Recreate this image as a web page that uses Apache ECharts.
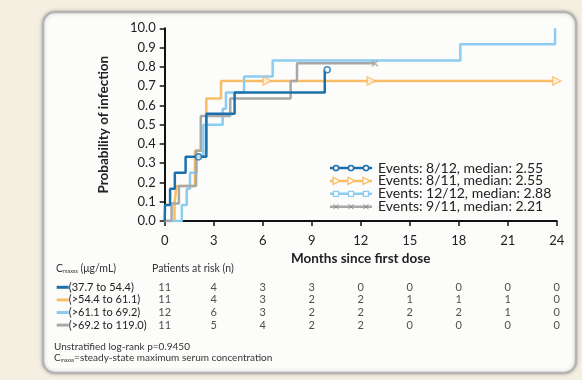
<!DOCTYPE html>
<html>
<head>
<meta charset="utf-8">
<script src="https://cdn.jsdelivr.net/npm/echarts@6/dist/echarts.min.js"></script>
<style>
  html, body { margin: 0; padding: 0; background: #f5efe2; }
  #chart { width: 582px; height: 380px; }
</style>
</head>
<body>
<div id="chart"></div>
<script>
// x ticks (months) and y tick labels as printed (top label really reads 10.0)
const months = [0, 3, 6, 9, 12, 15, 18, 21, 24];
const yTickLabels = ['0.0', '0.1', '0.2', '0.3', '0.4', '0.5', '0.6', '0.7', '0.8', '0.9', '10.0'];

const groupNames = ['(37.7 to 54.4)', '(>54.4 to 61.1)', '(>61.1 to 69.2)', '(>69.2 to 119.0)'];
const legendNames = [
  'Events: 8/12, median: 2.55',
  'Events: 8/11, median: 2.55',
  'Events: 12/12, median: 2.88',
  'Events: 9/11, median: 2.21'
];
const colors = ['#1b70ab', '#f9bd66', '#8bcdf0', '#a8a8a8'];

// cumulative probability of infection, [month, probability] at each step
const curveLow = [[0, 0], [0.02, 0.083], [0.33, 0.167], [0.62, 0.25], [1.28, 0.333], [2.55, 0.556], [4.28, 0.667], [9.8, 0.778], [9.9, 0.778]];
const curveMid = [[0, 0], [0.6, 0.091], [0.72, 0.182], [1.85, 0.364], [2.55, 0.636], [3.45, 0.727], [24, 0.727]];
const curveHigh = [[0, 0], [1.05, 0.083], [1.35, 0.167], [1.55, 0.25], [1.95, 0.333], [2.37, 0.5], [3.55, 0.583], [3.75, 0.667], [4.86, 0.75], [6.61, 0.833], [18.1, 0.917], [23.9, 1.0]];
const curveTop = [[0, 0], [0.42, 0.091], [0.87, 0.182], [1.92, 0.364], [2.21, 0.545], [4.01, 0.636], [7.71, 0.727], [8.1, 0.818], [12.87, 0.818]];

// censored observations
const censorLow = [[2.07, 0.333], [9.95, 0.785]];
const censorMid = [[6.27, 0.727], [12.65, 0.727], [24, 0.727]];
const censorTop = [[12.87, 0.818]];

// patients at risk at each month tick
const riskLow = [11, 4, 3, 3, 0, 0, 0, 0, 0];
const riskMid = [11, 4, 3, 2, 2, 1, 1, 1, 0];
const riskHigh = [12, 6, 3, 2, 2, 2, 2, 1, 0];
const riskTop = [11, 5, 4, 2, 2, 0, 0, 0, 0];

const curves = [curveLow, curveMid, curveHigh, curveTop];
const risks = [riskLow, riskMid, riskHigh, riskTop];

const FONT = 'Lato';
const triPath = 'path://M0,0L10,5L0,10Z';
const crossPath = 'path://M0,0L10,10M10,0L0,10';

const chart = echarts.init(document.getElementById('chart'));

const lineSeries = curves.map((c, i) => ({
  type: 'line',
  step: 'end',
  data: c,
  symbol: 'none',
  lineStyle: { color: colors[i], width: 2.5 },
  z: i === 0 ? 5 : 3,
  silent: true
}));

const censorSeries = [
  { data: censorLow, symbol: 'circle', symbolSize: 6, color: colors[0] },
  { data: censorMid, symbol: triPath, symbolSize: 8, color: colors[1] },
  { data: censorTop, symbol: crossPath, symbolSize: 6, color: colors[3] }
].map(s => ({
  type: 'scatter',
  data: s.data,
  symbol: s.symbol,
  symbolSize: s.symbolSize,
  itemStyle: { color: 'rgba(255,255,255,0.9)', borderColor: s.color, borderWidth: 1.6 },
  z: 6,
  silent: true
}));

const riskData = [];
risks.forEach((r, row) => r.forEach((v, col) => riskData.push([months[col], row, v])));

// legend swatches: line with three markers
const legendGraphics = [];
legendNames.forEach((name, i) => {
  const y = 168 + i * 12.9;
  legendGraphics.push({ type: 'line', shape: { x1: 330, y1: y, x2: 372, y2: y }, style: { stroke: colors[i], lineWidth: 2.5 } });
  [336, 351, 366].forEach(x => {
    if (i === 0) legendGraphics.push({ type: 'circle', shape: { cx: x, cy: y, r: 2.6 }, style: { fill: '#fff', stroke: colors[i], lineWidth: 1.5 } });
    if (i === 1) legendGraphics.push({ type: 'polygon', shape: { points: [[x - 3, y - 3.5], [x + 4, y], [x - 3, y + 3.5]] }, style: { fill: '#fff', stroke: colors[i], lineWidth: 1.3 } });
    if (i === 2) legendGraphics.push({ type: 'rect', shape: { x: x - 2.5, y: y - 2.5, width: 5, height: 5 }, style: { fill: '#fff', stroke: colors[i], lineWidth: 1.3 } });
    if (i === 3) legendGraphics.push({ type: 'polyline', shape: { points: [[x - 2.5, y - 2.5], [x + 2.5, y + 2.5]] }, style: { stroke: '#888', lineWidth: 1 } },
      { type: 'polyline', shape: { points: [[x + 2.5, y - 2.5], [x - 2.5, y + 2.5]] }, style: { stroke: '#888', lineWidth: 1 } });
  });
  legendGraphics.push({ type: 'text', x: 378, y: y, style: { text: name, font: '14px ' + FONT, fill: '#222', verticalAlign: 'middle' } });
});

const subRich = {
  s: { fontSize: 5.5, fontFamily: FONT, fill: '#333', verticalAlign: 'bottom', padding: [4, 0, 0, 0] },
  t: { fontSize: 10.5, fontFamily: FONT, fill: '#333' }
};

const option = {
  animation: false,
  graphic: [
    { type: 'rect', z: -10, shape: { x: 43, y: 12, width: 533, height: 361, r: 12 },
      style: { fill: '#fcfcfb', stroke: '#b4b4b2', lineWidth: 2.5, shadowBlur: 4, shadowColor: 'rgba(0,0,0,0.2)' } },
    ...legendGraphics,
    { type: 'text', x: 56, y: 269, style: { text: '{t|C}{s|maxss}{t| (μg/mL)}', rich: subRich, verticalAlign: 'middle' } },
    { type: 'text', x: 152, y: 269, style: { text: 'Patients at risk (n)', font: '10.5px ' + FONT, fill: '#333', verticalAlign: 'middle' } },
    { type: 'text', x: 54, y: 347, style: { text: 'Unstratified log-rank p=0.9450', font: '10px ' + FONT, fill: '#333', verticalAlign: 'middle' } },
    { type: 'text', x: 54, y: 358, style: { text: '{u|C}{v|maxss}{u|=steady-state maximum serum concentration}', verticalAlign: 'middle',
      rich: { u: { fontSize: 10, fontFamily: FONT, fill: '#333' }, v: { fontSize: 5, fontFamily: FONT, fill: '#333', verticalAlign: 'bottom', padding: [4, 0, 0, 0] } } } }
  ],
  grid: [
    { left: 164.7, right: 25.3, top: 28.3, bottom: 159 },
    { left: 164.7, right: 25.3, top: 281, height: 50.4 }
  ],
  xAxis: [
    {
      type: 'value', min: 0, max: 24, interval: 3, gridIndex: 0,
      name: 'Months since first dose', nameLocation: 'middle', nameGap: 31,
      nameTextStyle: { fontFamily: FONT, fontWeight: 'bold', fontSize: 13.5, color: '#222' },
      axisLine: { lineStyle: { color: '#111', width: 2 } },
      axisTick: { length: 5, lineStyle: { color: '#111', width: 1.5 } },
      axisLabel: { margin: 13, fontFamily: FONT, fontSize: 13, color: '#222', formatter: v => String(v) },
      splitLine: { show: false }
    },
    { type: 'value', min: 0, max: 24, gridIndex: 1, show: false }
  ],
  yAxis: [
    {
      type: 'value', min: 0, max: 1, interval: 0.1, gridIndex: 0,
      name: 'Probability of infection', nameLocation: 'middle', nameGap: 54,
      nameTextStyle: { fontFamily: FONT, fontWeight: 'bold', fontSize: 13.5, color: '#222' },
      axisLine: { show: true, lineStyle: { color: '#111', width: 2 } },
      axisTick: { show: true, length: 5, lineStyle: { color: '#111', width: 1.5 } },
      axisLabel: { margin: 9, fontFamily: FONT, fontSize: 13, color: '#222', formatter: v => yTickLabels[Math.round(v * 10)] },
      splitLine: { show: false }
    },
    {
      type: 'category', gridIndex: 1, inverse: true, data: groupNames,
      axisLine: { show: false }, axisTick: { show: false },
      axisLabel: {
        interval: 0, align: 'left', margin: 108,
        formatter: (v, i) => '{c' + i + '|}{t|' + v + '}',
        rich: {
          c0: { width: 12, height: 3, backgroundColor: colors[0] },
          c1: { width: 12, height: 3, backgroundColor: colors[1] },
          c2: { width: 12, height: 3, backgroundColor: colors[2] },
          c3: { width: 12, height: 3, backgroundColor: colors[3] },
          t: { fontFamily: FONT, fontSize: 11, color: '#222' }
        }
      }
    }
  ],
  series: [
    ...lineSeries,
    ...censorSeries,
    {
      type: 'scatter', xAxisIndex: 1, yAxisIndex: 1, data: riskData,
      symbolSize: 1, itemStyle: { color: 'transparent' }, silent: true,
      label: { show: true, position: 'inside', fontFamily: FONT, fontSize: 11, color: '#222', formatter: p => String(p.value[2]) }
    }
  ]
};

chart.setOption(option);
</script>
</body>
</html>
